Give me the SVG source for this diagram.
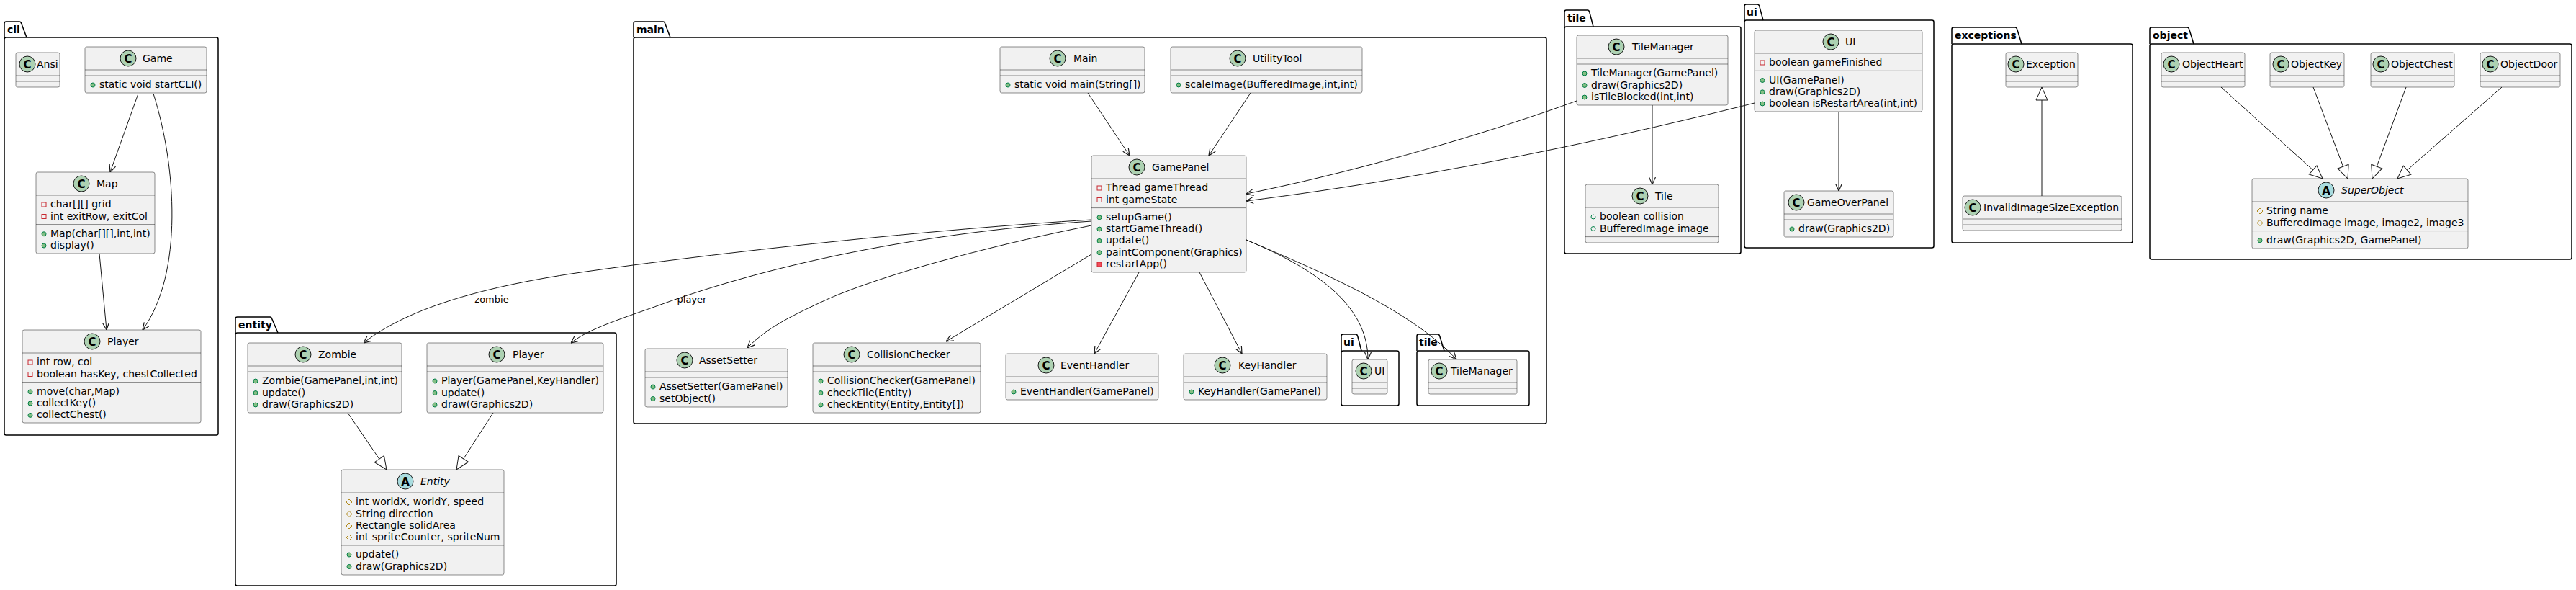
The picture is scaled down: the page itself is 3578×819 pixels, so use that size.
<svg xmlns="http://www.w3.org/2000/svg" width="3578" height="819" viewBox="0 0 3578 819">
<style>
.box{fill:#F1F1F1;stroke:#181818;stroke-width:0.5}
.sep{stroke:#181818;stroke-width:0.5}
.t{font-family:"DejaVu Sans","Liberation Sans",sans-serif;font-size:14px;fill:#000}
.it{font-style:italic}
.pk{fill:none;stroke:#000;stroke-width:1.5}
.pkt{font-family:"DejaVu Sans","Liberation Sans",sans-serif;font-size:14px;font-weight:bold;fill:#000}
.cc{fill:#ADD1B2;stroke:#181818;stroke-width:1}
.ca{fill:#A9DCDF;stroke:#181818;stroke-width:1}
.cl{font-family:"DejaVu Sans","Liberation Sans",sans-serif;font-size:15px;font-weight:bold;text-anchor:middle;fill:#000}
.pm{fill:#84BE84;stroke:#038048;stroke-width:1}
.pf{fill:none;stroke:#038048;stroke-width:1}
.vf{fill:none;stroke:#C82930;stroke-width:1}
.vm{fill:#F24D5C;stroke:#C82930;stroke-width:1}
.pt{fill:none;stroke:#B38D22;stroke-width:1}
.e{fill:none;stroke:#181818;stroke-width:1}
.lbl{font-family:"DejaVu Sans","Liberation Sans",sans-serif;font-size:13px;fill:#000;text-anchor:middle}
</style>
<defs>
<marker id="arr" viewBox="0 0 10 10" refX="10" refY="5" markerWidth="10" markerHeight="10" markerUnits="userSpaceOnUse" orient="auto">
<path d="M0,0.5 L10,5 L0,9.5" fill="none" stroke="#181818" stroke-width="1.2"/>
</marker>
<marker id="tri" viewBox="0 0 20 20" refX="19" refY="10" markerWidth="20" markerHeight="20" markerUnits="userSpaceOnUse" orient="auto">
<path d="M1,2 L19,10 L1,18 Z" fill="#FFFFFF" stroke="#181818" stroke-width="1"/>
</marker>
</defs>
<rect x="0" y="0" width="3578" height="819" fill="#FFFFFF"/>

<!-- packages -->
<g id="pkg-cli"><rect class="pk" x="6" y="52" width="297" height="552" rx="2.5"/><path class="pk" d="M6,52 V32.5 Q6,30 8.5,30 H27 Q29,30 29.7,32.5 L37,52"/><text class="pkt" x="10" y="46">cli</text></g>
<g id="pkg-entity"><rect class="pk" x="327" y="462" width="529" height="351" rx="2.5"/><path class="pk" d="M327,462 V442.5 Q327,440 329.5,440 H375 Q377,440 377.7,442.5 L386,462"/><text class="pkt" x="331" y="456">entity</text></g>
<g id="pkg-main"><rect class="pk" x="880" y="52" width="1268" height="536" rx="2.5"/><path class="pk" d="M880,52 V32.5 Q880,30 882.5,30 H921 Q923,30 923.7,32.5 L931,52"/><text class="pkt" x="884" y="46">main</text></g>
<g id="pkg-main-ui"><rect class="pk" x="1863" y="487" width="80" height="76" rx="2.5"/><path class="pk" d="M1863,487 V466.5 Q1863,464 1865.5,464 H1883 Q1885,464 1885.7,466.5 L1891,487"/><text class="pkt" x="1866" y="480">ui</text></g>
<g id="pkg-main-tile"><rect class="pk" x="1968" y="487" width="156" height="76" rx="2.5"/><path class="pk" d="M1968,487 V466.5 Q1968,464 1970.5,464 H1997 Q1999,464 1999.7,466.5 L2006,487"/><text class="pkt" x="1971" y="480">tile</text></g>
<g id="pkg-tile"><rect class="pk" x="2173" y="37" width="245" height="315" rx="2.5"/><path class="pk" d="M2173,37 V16.5 Q2173,14 2175.5,14 H2205 Q2207,14 2207.7,16.5 L2213,37"/><text class="pkt" x="2177" y="30">tile</text></g>
<g id="pkg-ui"><rect class="pk" x="2423" y="28" width="263" height="316" rx="2.5"/><path class="pk" d="M2423,28 V8.5 Q2423,6 2425.5,6 H2441 Q2443,6 2443.7,8.5 L2449,28"/><text class="pkt" x="2426" y="22">ui</text></g>
<g id="pkg-exceptions"><rect class="pk" x="2711" y="61" width="251" height="276" rx="2.5"/><path class="pk" d="M2711,61 V40.5 Q2711,38 2713.5,38 H2799 Q2801,38 2801.7,40.5 L2808,61"/><text class="pkt" x="2715" y="54">exceptions</text></g>
<g id="pkg-object"><rect class="pk" x="2986" y="61" width="586" height="299" rx="2.5"/><path class="pk" d="M2986,61 V40.5 Q2986,38 2988.5,38 H3038 Q3040,38 3040.7,40.5 L3047,61"/><text class="pkt" x="2990" y="54">object</text></g>

<!-- cli -->
<g id="cli-Ansi"><rect class="box" x="22" y="73" width="61" height="48" rx="2.5"/><line class="sep" x1="22" y1="105" x2="83" y2="105"/><line class="sep" x1="22" y1="113" x2="83" y2="113"/><circle class="cc" cx="38" cy="89" r="11"/><text class="cl" x="38" y="94.5">C</text><text class="t" x="51" y="94">Ansi</text></g>
<g id="cli-Game"><rect class="box" x="118" y="65" width="169" height="64" rx="2.5"/><line class="sep" x1="118" y1="97" x2="287" y2="97"/><line class="sep" x1="118" y1="105" x2="287" y2="105"/><circle class="cc" cx="178" cy="81" r="11"/><text class="cl" x="178" y="86.5">C</text><text class="t" x="198" y="86">Game</text><circle class="pm" cx="129" cy="118" r="3"/><text class="t" x="138" y="122">static void startCLI()</text></g>
<g id="cli-Map"><rect class="box" x="50" y="239" width="165" height="113" rx="2.5"/><line class="sep" x1="50" y1="271" x2="215" y2="271"/><line class="sep" x1="50" y1="311.6" x2="215" y2="311.6"/><circle class="cc" cx="113" cy="255" r="11"/><text class="cl" x="113" y="260.5">C</text><text class="t" x="134" y="260">Map</text>
<rect class="vf" x="58" y="281" width="6" height="6"/><text class="t" x="70" y="288">char[][] grid</text>
<rect class="vf" x="58" y="297.5" width="6" height="6"/><text class="t" x="70" y="304.5">int exitRow, exitCol</text>
<circle class="pm" cx="61" cy="324.8" r="3"/><text class="t" x="70" y="328.8">Map(char[][],int,int)</text>
<circle class="pm" cx="61" cy="341" r="3"/><text class="t" x="70" y="345">display()</text></g>
<g id="cli-Player"><rect class="box" x="31" y="458" width="248" height="129" rx="2.5"/><line class="sep" x1="31" y1="490" x2="279" y2="490"/><line class="sep" x1="31" y1="530.6" x2="279" y2="530.6"/><circle class="cc" cx="128" cy="474" r="11"/><text class="cl" x="128" y="479.5">C</text><text class="t" x="149" y="479">Player</text>
<rect class="vf" x="39" y="500" width="6" height="6"/><text class="t" x="51" y="507">int row, col</text>
<rect class="vf" x="39" y="516.5" width="6" height="6"/><text class="t" x="51" y="523.5">boolean hasKey, chestCollected</text>
<circle class="pm" cx="42" cy="543.8" r="3"/><text class="t" x="51" y="547.8">move(char,Map)</text>
<circle class="pm" cx="42" cy="560" r="3"/><text class="t" x="51" y="564">collectKey()</text>
<circle class="pm" cx="42" cy="576.4" r="3"/><text class="t" x="51" y="580.4">collectChest()</text></g>

<!-- entity -->
<g id="entity-Zombie"><rect class="box" x="344" y="476" width="214" height="97" rx="2.5"/><line class="sep" x1="344" y1="508" x2="558" y2="508"/><line class="sep" x1="344" y1="516" x2="558" y2="516"/><circle class="cc" cx="421" cy="492" r="11"/><text class="cl" x="421" y="497.5">C</text><text class="t" x="442" y="497">Zombie</text>
<circle class="pm" cx="355" cy="529" r="3"/><text class="t" x="364" y="533">Zombie(GamePanel,int,int)</text>
<circle class="pm" cx="355" cy="545.5" r="3"/><text class="t" x="364" y="549.5">update()</text>
<circle class="pm" cx="355" cy="562" r="3"/><text class="t" x="364" y="566">draw(Graphics2D)</text></g>
<g id="entity-Player"><rect class="box" x="593" y="476" width="245" height="97" rx="2.5"/><line class="sep" x1="593" y1="508" x2="838" y2="508"/><line class="sep" x1="593" y1="516" x2="838" y2="516"/><circle class="cc" cx="690" cy="492" r="11"/><text class="cl" x="690" y="497.5">C</text><text class="t" x="712" y="497">Player</text>
<circle class="pm" cx="604" cy="529" r="3"/><text class="t" x="613" y="533">Player(GamePanel,KeyHandler)</text>
<circle class="pm" cx="604" cy="545.5" r="3"/><text class="t" x="613" y="549.5">update()</text>
<circle class="pm" cx="604" cy="562" r="3"/><text class="t" x="613" y="566">draw(Graphics2D)</text></g>
<g id="entity-Entity"><rect class="box" x="474" y="652" width="226" height="146" rx="2.5"/><line class="sep" x1="474" y1="684" x2="700" y2="684"/><line class="sep" x1="474" y1="757" x2="700" y2="757"/><circle class="ca" cx="563" cy="668" r="11"/><text class="cl" x="563" y="673.5">A</text><text class="t it" x="584" y="673">Entity</text>
<path class="pt" d="M485,693 l4,4 l-4,4 l-4,-4 z"/><text class="t" x="494" y="701">int worldX, worldY, speed</text>
<path class="pt" d="M485,709.5 l4,4 l-4,4 l-4,-4 z"/><text class="t" x="494" y="717.5">String direction</text>
<path class="pt" d="M485,726 l4,4 l-4,4 l-4,-4 z"/><text class="t" x="494" y="734">Rectangle solidArea</text>
<path class="pt" d="M485,742 l4,4 l-4,4 l-4,-4 z"/><text class="t" x="494" y="750">int spriteCounter, spriteNum</text>
<circle class="pm" cx="485" cy="770" r="3"/><text class="t" x="494" y="774">update()</text>
<circle class="pm" cx="485" cy="786.5" r="3"/><text class="t" x="494" y="790.5">draw(Graphics2D)</text></g>

<!-- main -->
<g id="main-Main"><rect class="box" x="1389" y="65" width="201" height="64" rx="2.5"/><line class="sep" x1="1389" y1="97" x2="1590" y2="97"/><line class="sep" x1="1389" y1="105" x2="1590" y2="105"/><circle class="cc" cx="1469" cy="81" r="11"/><text class="cl" x="1469" y="86.5">C</text><text class="t" x="1491" y="86">Main</text><circle class="pm" cx="1400" cy="118" r="3"/><text class="t" x="1409" y="122">static void main(String[])</text></g>
<g id="main-UtilityTool"><rect class="box" x="1626" y="65" width="266" height="64" rx="2.5"/><line class="sep" x1="1626" y1="97" x2="1892" y2="97"/><line class="sep" x1="1626" y1="105" x2="1892" y2="105"/><circle class="cc" cx="1719" cy="81" r="11"/><text class="cl" x="1719" y="86.5">C</text><text class="t" x="1740" y="86">UtilityTool</text><circle class="pm" cx="1637" cy="118" r="3"/><text class="t" x="1646" y="122">scaleImage(BufferedImage,int,int)</text></g>
<g id="main-GamePanel"><rect class="box" x="1516" y="216" width="215" height="162" rx="2.5"/><line class="sep" x1="1516" y1="248" x2="1731" y2="248"/><line class="sep" x1="1516" y1="288.6" x2="1731" y2="288.6"/><circle class="cc" cx="1579" cy="232" r="11"/><text class="cl" x="1579" y="237.5">C</text><text class="t" x="1600" y="237">GamePanel</text>
<rect class="vf" x="1524" y="258" width="6" height="6"/><text class="t" x="1536" y="265">Thread gameThread</text>
<rect class="vf" x="1524" y="274.5" width="6" height="6"/><text class="t" x="1536" y="281.5">int gameState</text>
<circle class="pm" cx="1527" cy="301.8" r="3"/><text class="t" x="1536" y="305.8">setupGame()</text>
<circle class="pm" cx="1527" cy="318" r="3"/><text class="t" x="1536" y="322">startGameThread()</text>
<circle class="pm" cx="1527" cy="334.4" r="3"/><text class="t" x="1536" y="338.4">update()</text>
<circle class="pm" cx="1527" cy="350.7" r="3"/><text class="t" x="1536" y="354.7">paintComponent(Graphics)</text>
<rect class="vm" x="1524" y="364" width="6" height="6"/><text class="t" x="1536" y="371">restartApp()</text></g>
<g id="main-AssetSetter"><rect class="box" x="896" y="484" width="198" height="81" rx="2.5"/><line class="sep" x1="896" y1="516" x2="1094" y2="516"/><line class="sep" x1="896" y1="524" x2="1094" y2="524"/><circle class="cc" cx="951" cy="500" r="11"/><text class="cl" x="951" y="505.5">C</text><text class="t" x="971" y="505">AssetSetter</text>
<circle class="pm" cx="907" cy="537" r="3"/><text class="t" x="916" y="541">AssetSetter(GamePanel)</text>
<circle class="pm" cx="907" cy="553.5" r="3"/><text class="t" x="916" y="557.5">setObject()</text></g>
<g id="main-CollisionChecker"><rect class="box" x="1129" y="476" width="233" height="97" rx="2.5"/><line class="sep" x1="1129" y1="508" x2="1362" y2="508"/><line class="sep" x1="1129" y1="516" x2="1362" y2="516"/><circle class="cc" cx="1183" cy="492" r="11"/><text class="cl" x="1183" y="497.5">C</text><text class="t" x="1204" y="497">CollisionChecker</text>
<circle class="pm" cx="1140" cy="529" r="3"/><text class="t" x="1149" y="533">CollisionChecker(GamePanel)</text>
<circle class="pm" cx="1140" cy="545.5" r="3"/><text class="t" x="1149" y="549.5">checkTile(Entity)</text>
<circle class="pm" cx="1140" cy="562" r="3"/><text class="t" x="1149" y="566">checkEntity(Entity,Entity[])</text></g>
<g id="main-EventHandler"><rect class="box" x="1397" y="491" width="212" height="64" rx="2.5"/><line class="sep" x1="1397" y1="523" x2="1609" y2="523"/><line class="sep" x1="1397" y1="531" x2="1609" y2="531"/><circle class="cc" cx="1453" cy="507" r="11"/><text class="cl" x="1453" y="512.5">C</text><text class="t" x="1473" y="512">EventHandler</text>
<circle class="pm" cx="1408" cy="544" r="3"/><text class="t" x="1417" y="548">EventHandler(GamePanel)</text></g>
<g id="main-KeyHandler"><rect class="box" x="1644" y="491" width="199" height="64" rx="2.5"/><line class="sep" x1="1644" y1="523" x2="1843" y2="523"/><line class="sep" x1="1644" y1="531" x2="1843" y2="531"/><circle class="cc" cx="1698" cy="507" r="11"/><text class="cl" x="1698" y="512.5">C</text><text class="t" x="1720" y="512">KeyHandler</text>
<circle class="pm" cx="1655" cy="544" r="3"/><text class="t" x="1664" y="548">KeyHandler(GamePanel)</text></g>
<g id="main-ui-UI"><rect class="box" x="1878" y="499" width="49" height="48" rx="2.5"/><line class="sep" x1="1878" y1="531" x2="1927" y2="531"/><line class="sep" x1="1878" y1="539" x2="1927" y2="539"/><circle class="cc" cx="1894" cy="515" r="11"/><text class="cl" x="1894" y="520.5">C</text><text class="t" x="1909" y="520">UI</text></g>
<g id="main-tile-TileManager"><rect class="box" x="1984" y="499" width="123" height="48" rx="2.5"/><line class="sep" x1="1984" y1="531" x2="2107" y2="531"/><line class="sep" x1="1984" y1="539" x2="2107" y2="539"/><circle class="cc" cx="1999" cy="515" r="11"/><text class="cl" x="1999" y="520.5">C</text><text class="t" x="2015" y="520">TileManager</text></g>

<!-- tile -->
<g id="tile-TileManager"><rect class="box" x="2190" y="49" width="210" height="97" rx="2.5"/><line class="sep" x1="2190" y1="81" x2="2400" y2="81"/><line class="sep" x1="2190" y1="89" x2="2400" y2="89"/><circle class="cc" cx="2245" cy="65" r="11"/><text class="cl" x="2245" y="70.5">C</text><text class="t" x="2267" y="70">TileManager</text>
<circle class="pm" cx="2201" cy="102" r="3"/><text class="t" x="2210" y="106">TileManager(GamePanel)</text>
<circle class="pm" cx="2201" cy="118.5" r="3"/><text class="t" x="2210" y="122.5">draw(Graphics2D)</text>
<circle class="pm" cx="2201" cy="135" r="3"/><text class="t" x="2210" y="139">isTileBlocked(int,int)</text></g>
<g id="tile-Tile"><rect class="box" x="2202" y="256" width="185" height="81" rx="2.5"/><line class="sep" x1="2202" y1="288" x2="2387" y2="288"/><line class="sep" x1="2202" y1="328.6" x2="2387" y2="328.6"/><circle class="cc" cx="2278" cy="272" r="11"/><text class="cl" x="2278" y="277.5">C</text><text class="t" x="2299" y="277">Tile</text>
<circle class="pf" cx="2213" cy="301" r="3"/><text class="t" x="2222" y="305">boolean collision</text>
<circle class="pf" cx="2213" cy="317.5" r="3"/><text class="t" x="2222" y="321.5">BufferedImage image</text></g>

<!-- ui -->
<g id="ui-UI"><rect class="box" x="2437" y="42" width="233" height="113" rx="2.5"/><line class="sep" x1="2437" y1="74" x2="2670" y2="74"/><line class="sep" x1="2437" y1="98.3" x2="2670" y2="98.3"/><circle class="cc" cx="2543" cy="58" r="11"/><text class="cl" x="2543" y="63.5">C</text><text class="t" x="2563" y="63">UI</text>
<rect class="vf" x="2445" y="84" width="6" height="6"/><text class="t" x="2457" y="91">boolean gameFinished</text>
<circle class="pm" cx="2448" cy="111.5" r="3"/><text class="t" x="2457" y="115.5">UI(GamePanel)</text>
<circle class="pm" cx="2448" cy="127.8" r="3"/><text class="t" x="2457" y="131.8">draw(Graphics2D)</text>
<circle class="pm" cx="2448" cy="144" r="3"/><text class="t" x="2457" y="148">boolean isRestartArea(int,int)</text></g>
<g id="ui-GameOverPanel"><rect class="box" x="2478" y="265" width="152" height="64" rx="2.5"/><line class="sep" x1="2478" y1="297" x2="2630" y2="297"/><line class="sep" x1="2478" y1="305" x2="2630" y2="305"/><circle class="cc" cx="2495" cy="281" r="11"/><text class="cl" x="2495" y="286.5">C</text><text class="t" x="2510" y="286">GameOverPanel</text>
<circle class="pm" cx="2489" cy="318" r="3"/><text class="t" x="2498" y="322">draw(Graphics2D)</text></g>

<!-- exceptions -->
<g id="exceptions-Exception"><rect class="box" x="2786" y="73" width="100" height="48" rx="2.5"/><line class="sep" x1="2786" y1="105" x2="2886" y2="105"/><line class="sep" x1="2786" y1="113" x2="2886" y2="113"/><circle class="cc" cx="2800" cy="89" r="11"/><text class="cl" x="2800" y="94.5">C</text><text class="t" x="2814" y="94">Exception</text></g>
<g id="exceptions-InvalidImageSizeException"><rect class="box" x="2726" y="272" width="221" height="48" rx="2.5"/><line class="sep" x1="2726" y1="304" x2="2947" y2="304"/><line class="sep" x1="2726" y1="312" x2="2947" y2="312"/><circle class="cc" cx="2740" cy="288" r="11"/><text class="cl" x="2740" y="293.5">C</text><text class="t" x="2755" y="293">InvalidImageSizeException</text></g>

<!-- object -->
<g id="object-ObjectHeart"><rect class="box" x="3002" y="73" width="116" height="48" rx="2.5"/><line class="sep" x1="3002" y1="105" x2="3118" y2="105"/><line class="sep" x1="3002" y1="113" x2="3118" y2="113"/><circle class="cc" cx="3016" cy="89" r="11"/><text class="cl" x="3016" y="94.5">C</text><text class="t" x="3031" y="94">ObjectHeart</text></g>
<g id="object-ObjectKey"><rect class="box" x="3153" y="73" width="103" height="48" rx="2.5"/><line class="sep" x1="3153" y1="105" x2="3256" y2="105"/><line class="sep" x1="3153" y1="113" x2="3256" y2="113"/><circle class="cc" cx="3168" cy="89" r="11"/><text class="cl" x="3168" y="94.5">C</text><text class="t" x="3182" y="94">ObjectKey</text></g>
<g id="object-ObjectChest"><rect class="box" x="3293" y="73" width="116" height="48" rx="2.5"/><line class="sep" x1="3293" y1="105" x2="3409" y2="105"/><line class="sep" x1="3293" y1="113" x2="3409" y2="113"/><circle class="cc" cx="3307" cy="89" r="11"/><text class="cl" x="3307" y="94.5">C</text><text class="t" x="3321" y="94">ObjectChest</text></g>
<g id="object-ObjectDoor"><rect class="box" x="3445" y="73" width="111" height="48" rx="2.5"/><line class="sep" x1="3445" y1="105" x2="3556" y2="105"/><line class="sep" x1="3445" y1="113" x2="3556" y2="113"/><circle class="cc" cx="3459" cy="89" r="11"/><text class="cl" x="3459" y="94.5">C</text><text class="t" x="3473" y="94">ObjectDoor</text></g>
<g id="object-SuperObject"><rect class="box" x="3128" y="248" width="300" height="97" rx="2.5"/><line class="sep" x1="3128" y1="280" x2="3428" y2="280"/><line class="sep" x1="3128" y1="320.6" x2="3428" y2="320.6"/><circle class="ca" cx="3231" cy="264" r="11"/><text class="cl" x="3231" y="269.5">A</text><text class="t it" x="3252" y="269">SuperObject</text>
<path class="pt" d="M3139,289 l4,4 l-4,4 l-4,-4 z"/><text class="t" x="3148" y="297">String name</text>
<path class="pt" d="M3139,305.5 l4,4 l-4,4 l-4,-4 z"/><text class="t" x="3148" y="313.5">BufferedImage image, image2, image3</text>
<circle class="pm" cx="3139" cy="333.8" r="3"/><text class="t" x="3148" y="337.8">draw(Graphics2D, GamePanel)</text></g>

<!-- connectors -->
<g id="connectors">
<path class="e" marker-end="url(#arr)" d="M192,130 L153,239"/>
<path class="e" marker-end="url(#arr)" d="M213,130 C245,230 255,380 198,458"/>
<path class="e" marker-end="url(#arr)" d="M138,352 L148,458"/>
<path class="e" marker-end="url(#tri)" d="M483,573 L537,652"/>
<path class="e" marker-end="url(#tri)" d="M685,573 L634,652"/>
<path class="e" marker-end="url(#arr)" d="M1511,129 L1569,216"/>
<path class="e" marker-end="url(#arr)" d="M1737,129 L1679,216"/>
<path class="e" marker-end="url(#arr)" d="M1516,305 C1300,318 1000,350 800,379 C680,397 570,425 505,476"/>
<text class="lbl" x="683" y="420">zombie</text>
<path class="e" marker-end="url(#arr)" d="M1516,307 C1250,325 1050,375 920,422 C865,442 820,455 793,476"/>
<text class="lbl" x="961" y="420">player</text>
<path class="e" marker-end="url(#arr)" d="M1516,313 C1380,340 1230,380 1150,415 C1100,438 1065,455 1038,483"/>
<path class="e" marker-end="url(#arr)" d="M1516,353 L1314,474"/>
<path class="e" marker-end="url(#arr)" d="M1582,378 L1520,491"/>
<path class="e" marker-end="url(#arr)" d="M1666,378 L1725,491"/>
<path class="e" marker-end="url(#arr)" d="M1731,333 C1820,370 1900,420 1900,499"/>
<path class="e" marker-end="url(#arr)" d="M1731,333 C1830,375 1960,430 2023,499"/>
<path class="e" marker-end="url(#arr)" d="M2190,140 C2080,180 1900,235 1731,269"/>
<path class="e" marker-end="url(#arr)" d="M2437,143 C2250,190 2000,245 1731,279"/>
<path class="e" marker-end="url(#arr)" d="M2295,146 L2295,256"/>
<path class="e" marker-end="url(#arr)" d="M2554,155 L2554,265"/>
<path class="e" marker-end="url(#tri)" d="M2836,272 L2836,121"/>
<path class="e" marker-end="url(#tri)" d="M3085,121 L3226,248"/>
<path class="e" marker-end="url(#tri)" d="M3213,121 L3261,248"/>
<path class="e" marker-end="url(#tri)" d="M3342,121 L3295,248"/>
<path class="e" marker-end="url(#tri)" d="M3475,121 L3330,248"/>
</g>
</svg>
